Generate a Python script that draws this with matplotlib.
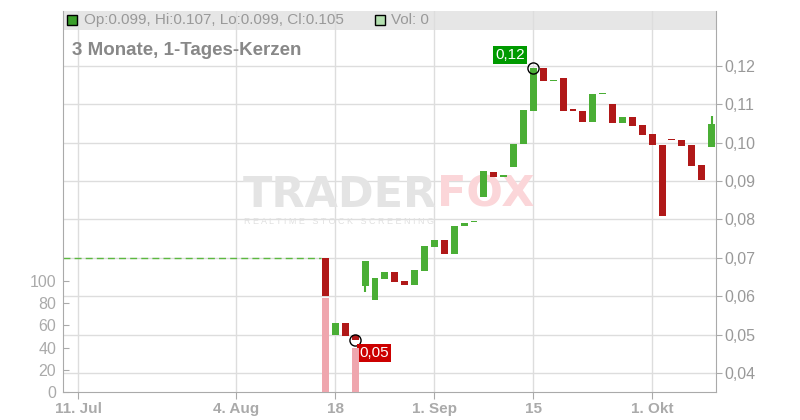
import matplotlib
matplotlib.use("Agg")
import matplotlib.pyplot as plt
from matplotlib.patches import Rectangle

plt.rcParams['font.family'] = ['Liberation Sans', 'DejaVu Sans']

# trading-day index (0 = 11. Jul), one candle per day
day = list(range(25, 65))
opens = [0.0700, 0.0500, 0.0530, 0.0500, 0.0628, 0.0589, 0.0646, 0.0664, 0.0640, 0.0630,
         0.0667, 0.0728, 0.0747, 0.0709, 0.0782, 0.0793, 0.0858, 0.0925, 0.0912, 0.0936,
         0.0996, 0.1082, 0.1196, 0.1161, 0.1168, 0.1085, 0.1084, 0.1053, 0.1127, 0.1102,
         0.1051, 0.1068, 0.1047, 0.1024, 0.0994, 0.1008, 0.1008, 0.0993, 0.0943, 0.0990]
closes = [0.0600, 0.0530, 0.0497, 0.0485, 0.0692, 0.0648, 0.0664, 0.0638, 0.0630, 0.0669,
          0.0732, 0.0747, 0.0709, 0.0784, 0.0792, 0.0794, 0.0927, 0.0910, 0.0913, 0.0998,
          0.1085, 0.1196, 0.1161, 0.1162, 0.1082, 0.1084, 0.1053, 0.1126, 0.1128, 0.1051,
          0.1068, 0.1043, 0.1021, 0.0994, 0.0808, 0.1007, 0.0991, 0.0939, 0.0902, 0.1050]
highs = [max(o, c) for o, c in zip(opens, closes)]
lows = [min(o, c) for o, c in zip(opens, closes)]
lows[4] = 0.0610    # wick of the 29th day
highs[-1] = 0.1070  # wick of the last day

vol_day = [25, 28]
vol = [85, 40]

prev_close = 0.07

tick_days = [0, 16, 26, 36, 46, 58]
tick_names = ["11. Jul", "4. Aug", "18", "1. Sep", "15", "1. Okt"]
price_ticks = [0.04, 0.05, 0.06, 0.07, 0.08, 0.09, 0.10, 0.11, 0.12]
vol_ticks = [0, 20, 40, 60, 80, 100]

green = "#4aae35"
red = "#b01818"
grey_txt = "#999999"

fig = plt.figure(figsize=(8, 4.2), dpi=100)
ax = fig.add_axes([63 / 800, 28 / 420, 653 / 800, 381 / 420])
axv = ax.twinx()

ax.set_xlim(-1.52, 64.45)
ax.set_ylim(0.03505, 0.13433)
ax.set_axisbelow(True)

ax.yaxis.tick_right()
ax.set_yticks(price_ticks)
ax.set_yticklabels([f"{p:.2f}".replace(".", ",") for p in price_ticks])
ax.set_xticks(tick_days)
ax.set_xticklabels(tick_names, fontweight="bold")
ax.grid(True, color="#dddddd", lw=1)
ax.tick_params(axis="y", colors="#aaaaaa", labelcolor=grey_txt, labelsize=11.5, length=4, pad=2)
ax.tick_params(axis="x", colors="#aaaaaa", labelcolor="#aaaaaa", labelsize=11, length=5, pad=2)
for s in ["left", "right", "bottom"]:
    ax.spines[s].set_color("#aaaaaa")
ax.spines["top"].set_visible(False)

# header bar
ax.add_patch(Rectangle((0, 0.95), 1, 0.05, transform=ax.transAxes, color="#e6e6e6", zorder=0.3, lw=0))
last = len(opens) - 1
ax.plot([0.0145], [0.9764], marker="s", ms=7, mfc="#3a9f2a", mec="black", mew=1,
        transform=ax.transAxes, clip_on=False, zorder=5)
ax.text(0.0322, 0.9764,
        f"Op:{opens[last]:.3f}, Hi:{highs[last]:.3f}, Lo:{lows[last]:.3f}, Cl:{closes[last]:.3f}",
        transform=ax.transAxes, va="center", ha="left", fontsize=11, color=grey_txt)
ax.plot([0.4854], [0.9764], marker="s", ms=7, mfc="#b4e0b0", mec="black", mew=1,
        transform=ax.transAxes, clip_on=False, zorder=5)
ax.text(0.5025, 0.9764, "Vol: 0", transform=ax.transAxes, va="center", ha="left",
        fontsize=11, color=grey_txt)
ax.text(0.0138, 0.897, "3 Monate, 1-Tages-Kerzen", transform=ax.transAxes, va="center",
        ha="left", fontsize=13.5, fontweight="bold", color="#888888")

# watermark
ax.text(0.5727, 0.4856, "TRADER", transform=ax.transAxes, ha="right", va="baseline",
        fontsize=31, fontweight="heavy", color="#e4e4e4", family="DejaVu Sans", zorder=0.6)
ax.text(0.5727, 0.4856, "FOX", transform=ax.transAxes, ha="left", va="baseline",
        fontsize=31, fontweight="heavy", color="#fbd6d9", family="DejaVu Sans", zorder=0.6)
ax.text(0.422, 0.442, "R E A L T I M E   S T O C K   S C R E E N I N G", transform=ax.transAxes,
        ha="center", va="baseline", fontsize=6.5, color="#e0e0e0", zorder=0.6)

# previous close line
ax.plot([ax.get_xlim()[0], day[0] - 0.5], [prev_close, prev_close], color="#5cb840",
        lw=1, ls=(0, (5, 3)), zorder=2)

# candles
cols = [green if c >= o else red for o, c in zip(opens, closes)]
ax.vlines(day, lows, highs, colors=cols, lw=1.5, zorder=3)
bodies = [max(abs(c - o), 0.0003) for o, c in zip(opens, closes)]
ax.bar(day, bodies, bottom=[min(o, c) for o, c in zip(opens, closes)],
       width=0.7, color=cols, zorder=4)

# hi / lo markers
hi_i = max(range(len(highs)), key=lambda i: highs[i])
lo_i = min(range(len(lows)), key=lambda i: lows[i])
ax.plot([day[hi_i], day[lo_i]], [highs[hi_i], lows[lo_i]], "o", ms=8, mfc="none",
        mec="black", mew=1, zorder=6)
ax.annotate(f"{highs[hi_i]:.2f}".replace(".", ","), (day[hi_i], highs[hi_i]),
            xytext=(-6, 4), textcoords="offset points", ha="right", va="bottom",
            fontsize=11, color="white", zorder=7,
            bbox=dict(boxstyle="square,pad=0.15", fc="#009a00", ec="none"))
ax.annotate(f"{lows[lo_i]:.2f}".replace(".", ","), (day[lo_i], lows[lo_i]),
            xytext=(3, -4), textcoords="offset points", ha="left", va="top",
            fontsize=11, color="white", zorder=7,
            bbox=dict(boxstyle="square,pad=0.15", fc="#cc0000", ec="none"))

# volume axis
axv.set_ylim(0, 343)
axv.yaxis.tick_left()
axv.set_yticks(vol_ticks)
axv.bar(vol_day, vol, width=0.7, color="#efa6ae", zorder=2)
axv.tick_params(axis="y", direction="in", colors="#aaaaaa", labelcolor="#aaaaaa",
                labelsize=11.5, length=4, pad=5)
for s in axv.spines.values():
    s.set_visible(False)

fig.savefig("out.png", dpi=100)
